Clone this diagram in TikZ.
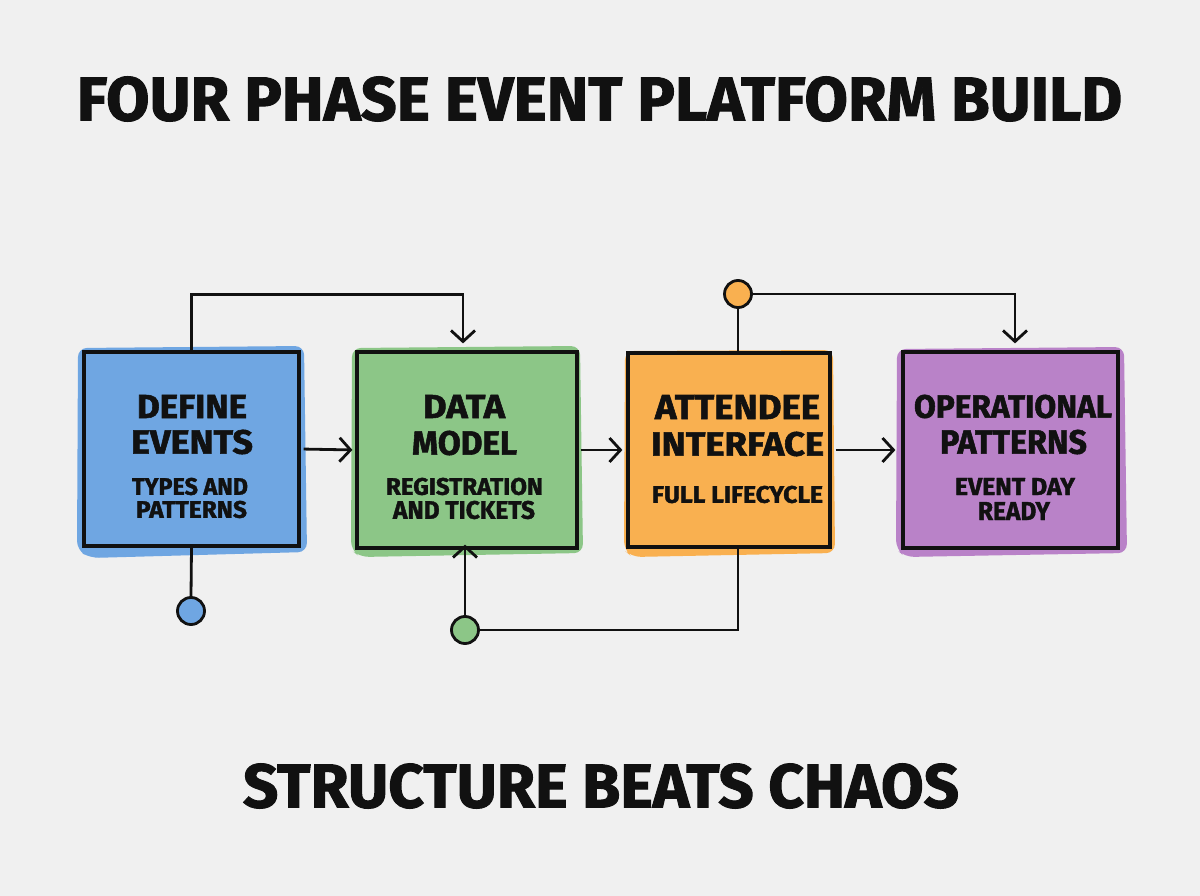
\documentclass[tikz,border=0pt]{standalone}
\usepackage{fontspec}
\usepackage{graphicx}
\setmainfont{Fira Sans}
\newfontfamily\heavyfont{Fira Sans Bold}[FakeBold=1.6]
\usetikzlibrary{arrows.meta}
\definecolor{bgc}{HTML}{F0F0F0}
\definecolor{cblue}{HTML}{6FA6E2}
\definecolor{cgreen}{HTML}{8CC687}
\definecolor{corange}{HTML}{F9B050}
\definecolor{cpurple}{HTML}{B982C8}
\definecolor{ink}{HTML}{111111}
\newcommand{\fitline}[6]{\node[inner sep=0pt,text=ink] (#1) at (#2,#3) {\resizebox{#4pt}{#5pt}{\heavyfont #6}};}
\tikzset{
  box/.style={draw=ink,line width=3.2pt,rectangle,inner sep=0pt},
  dot/.style={draw=ink,line width=2.8pt,circle,inner sep=0pt,minimum size=27pt},
  conn/.style={draw=ink,line width=2.8pt},
  arr/.style={conn,-{Straight Barb[length=11pt,width=24pt,line width=2.8pt]}},
  blob/.style={rounded corners=9pt}
}
\begin{document}
\begin{tikzpicture}[x=1pt,y=-1pt]
\fill[bgc] (0,0) rectangle (1200,896);
\useasboundingbox (0,0) rectangle (1200,896);

% colour blobs
\fill[cblue,blob] (78,348) -- (304,346) -- (307,552) -- (90,558) -- (77,550) -- cycle;
\fill[cgreen,blob] (352,348) -- (580,346) -- (583,553) -- (360,557) -- (351,550) -- cycle;
\fill[corange,blob] (625,351) -- (833,350) -- (835,553) -- (632,557) -- (624,550) -- cycle;
\fill[cpurple,blob] (897,349) -- (1124,347) -- (1127,553) -- (905,557) -- (896,549) -- cycle;

% boxes
\node[box,minimum width=215pt,minimum height=194pt] (b1) at (191.5,449) {};
\node[box,minimum width=220pt,minimum height=196pt] (b2) at (467,450) {};
\node[box,minimum width=202pt,minimum height=194pt] (b3) at (729,450) {};
\node[box,minimum width=215pt,minimum height=196pt] (b4) at (1010.5,450) {};

% circles
\node[dot,fill=cblue] (c1) at (191,611) {};
\node[dot,fill=cgreen] (c2) at (465,630) {};
\node[dot,fill=corange] (c3) at (738,294) {};

% connectors
\draw[arr,shorten >=7pt] (b1.north) -- ++(0,-56) -| ([xshift=-4pt]b2.north);
\draw[conn] (b1.south) -- (c1.north);
\draw[arr,shorten <=3pt,shorten >=3pt] (b1.east) -- (b2.west);
\draw[arr,shorten <=2pt,shorten >=4pt] (b2.east) -- (b3.west);
\draw[arr,shorten <=4pt,shorten >=6pt] (b3.east) -- (b4.west);
\draw[arr,shorten >=-5pt] (c2.north) -- (c2.north |- b2.south);
\draw[conn] (c2.east) -| ([xshift=9pt]b3.south);
\draw[conn] (c3.south) -- (c3.south |- b3.north);
\draw[arr,shorten >=7pt] (c3.east) -| ([xshift=4.5pt]b4.north);

% titles
\fitline{title}{599.5}{99}{1045}{44}{FOUR PHASE EVENT PLATFORM BUILD}
\fitline{footer}{601}{786}{716}{44}{STRUCTURE BEATS CHAOS}

% box texts
\fitline{t1a}{192}{406.5}{110}{23}{DEFINE}
\fitline{t1b}{192}{442}{122}{24}{EVENTS}
\fitline{t1c}{190}{486.5}{116}{17}{TYPES AND}
\fitline{t1d}{191.5}{509.5}{111}{17}{PATTERNS}

\fitline{t2a}{464}{406.5}{82}{23}{DATA}
\fitline{t2b}{464.5}{443}{105}{24}{MODEL}
\fitline{t2c}{464.5}{486.5}{157}{17}{REGISTRATION}
\fitline{t2d}{464}{510}{142}{18}{AND TICKETS}

\fitline{t3a}{737.5}{407}{165}{24}{ATTENDEE}
\fitline{t3b}{737.5}{444}{173}{24}{INTERFACE}
\fitline{t3c}{737.5}{494.5}{171}{17}{FULL LIFECYCLE}

\fitline{t4a}{1013}{406.5}{198}{23}{OPERATIONAL}
\fitline{t4b}{1013.5}{442}{147}{24}{PATTERNS}
\fitline{t4c}{1015}{486.5}{120}{17}{EVENT DAY}
\fitline{t4d}{1014}{511}{72}{18}{READY}
\end{tikzpicture}
\end{document}
